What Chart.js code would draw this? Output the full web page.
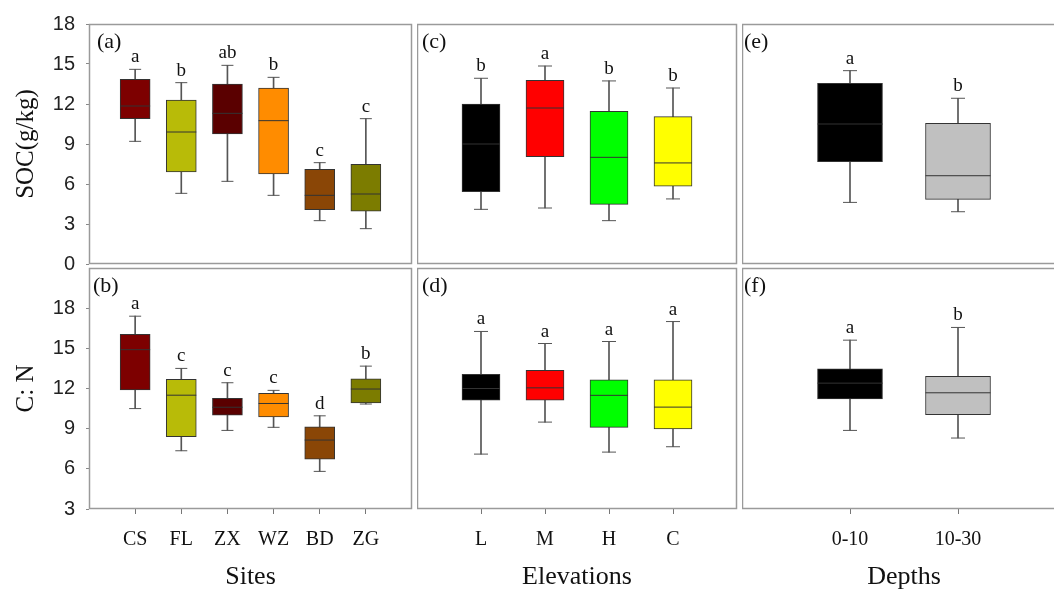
<!DOCTYPE html>
<html>
<head>
<meta charset="utf-8">
<script src="https://cdn.jsdelivr.net/npm/chart.js@4.4.1/dist/chart.umd.min.js"></script>
<style>
  html, body { margin: 0; padding: 0; background: #fff; overflow: hidden; width: 1054px; height: 590px; }
  canvas { position: absolute; }
</style>
</head>
<body>
<canvas id="pa"></canvas>
<canvas id="pb"></canvas>
<canvas id="pc"></canvas>
<canvas id="pd"></canvas>
<canvas id="pe"></canvas>
<canvas id="pf"></canvas>
<script>
// categories
var sites = ['CS', 'FL', 'ZX', 'WZ', 'BD', 'ZG'];
var elevations = ['L', 'M', 'H', 'C'];
var depths = ['0-10', '10-30'];

// tick labels
var socTicks = [0, 3, 6, 9, 12, 15, 18];
var cnTicks = [3, 6, 9, 12, 15, 18];

// box rows: [min, q1, median, q3, max]
var socBySite = [
  [9.2, 10.9, 11.85, 13.85, 14.6],
  [5.3, 6.9, 9.9, 12.3, 13.6],
  [6.2, 9.75, 11.3, 13.5, 14.9],
  [5.15, 6.75, 10.75, 13.2, 14.0],
  [3.25, 4.07, 5.15, 7.1, 7.6],
  [2.65, 3.97, 5.25, 7.47, 10.9]
];
var socSiteLetters = ['a', 'b', 'ab', 'b', 'c', 'c'];

var cnBySite = [
  [10.5, 11.9, 14.9, 16.05, 17.4],
  [7.35, 8.4, 11.5, 12.68, 13.5],
  [8.87, 10.0, 10.6, 11.26, 12.43],
  [9.1, 9.87, 10.88, 11.63, 11.86],
  [5.81, 6.73, 8.15, 9.14, 9.96],
  [10.84, 10.93, 11.96, 12.72, 13.67]
];
var cnSiteLetters = ['a', 'c', 'c', 'c', 'd', 'b'];

var socByElev = [
  [4.1, 5.43, 9.0, 12.0, 13.93],
  [4.2, 8.05, 11.7, 13.78, 14.85],
  [3.25, 4.47, 8.0, 11.45, 13.73],
  [4.88, 5.83, 7.58, 11.05, 13.2]
];
var socElevLetters = ['b', 'a', 'b', 'b'];

var cnByElev = [
  [7.1, 11.13, 12.0, 13.05, 16.26],
  [9.49, 11.13, 12.05, 13.35, 15.36],
  [7.25, 9.1, 11.49, 12.65, 15.51],
  [7.65, 8.99, 10.61, 12.65, 17.0]
];
var cnElevLetters = ['a', 'a', 'a', 'a'];

var socByDepth = [
  [4.62, 7.67, 10.5, 13.55, 14.5],
  [3.92, 4.85, 6.62, 10.55, 12.43]
];
var socDepthLetters = ['a', 'b'];

var cnByDepth = [
  [8.87, 11.23, 12.4, 13.47, 15.61],
  [8.3, 10.04, 11.68, 12.9, 16.56]
];
var cnDepthLetters = ['a', 'b'];

var siteColors = ['#7d0000', '#b8bb08', '#5a0000', '#ff8c00', '#8a4606', '#7c7c00'];
var elevColors = ['#000000', '#ff0000', '#00ff00', '#ffff00'];
var depthColors = ['#000000', '#c0c0c0'];

Chart.defaults.font.family = 'Liberation Serif';
Chart.defaults.color = '#000';

var SERIF = 'Liberation Serif';

function pad(arr) { return [null].concat(arr, [null]); }

// scale paddings would shrink the plot area, the canvas margins already leave room
function noPad(s) { s.paddingTop = 0; s.paddingBottom = 0; s.paddingLeft = 0; s.paddingRight = 0; }

function makePanel(id, p) {
  var x0 = p.rect[0], y0 = p.rect[1], x1 = p.rect[2], y1 = p.rect[3];
  var padTop = 14, padRight = 2;
  var padBottom = p.xTitle ? 0 : 14;
  var yw = p.yTitle ? x0 : 0;
  var xh = p.xTitle ? 590 - y1 : 0;
  var left = x0 - yw, top = y0 - padTop;
  var w = x1 - left + padRight;
  var h = y1 - top + xh + padBottom;

  var cv = document.getElementById(id);
  cv.width = w; cv.height = h;
  cv.style.left = left + 'px'; cv.style.top = top + 'px';
  cv.style.width = w + 'px'; cv.style.height = h + 'px';

  var rows = p.rows;
  var labels = [''].concat(p.cats, ['']);

  var decor = {
    id: 'decor',
    afterDatasetsDraw: function (chart) {
      var ctx = chart.ctx, xs = chart.scales.x, ys = chart.scales.y;
      ctx.save();
      ctx.fillStyle = '#111';
      ctx.font = '19px "' + SERIF + '"';
      ctx.textAlign = 'center';
      ctx.textBaseline = 'alphabetic';
      rows.forEach(function (r, i) {
        ctx.fillText(p.letters[i], xs.getPixelForValue(i + 1), ys.getPixelForValue(r[4]) - 7);
      });
      ctx.restore();
    },
    afterDraw: function (chart) {
      var ctx = chart.ctx, a = chart.chartArea;
      ctx.save();
      ctx.strokeStyle = '#9a9a9a';
      ctx.lineWidth = 1.5;
      ctx.strokeRect(a.left + 0.5, a.top + 0.5, a.right - a.left - 1, a.bottom - a.top - 1);
      ctx.fillStyle = '#111';
      ctx.font = '22px "' + SERIF + '"';
      ctx.textAlign = 'left';
      ctx.textBaseline = 'alphabetic';
      ctx.fillText(p.tag, a.left + p.tagDx, a.top + 24);
      ctx.restore();
    }
  };

  new Chart(cv, {
    type: 'bar',
    data: {
      labels: labels,
      datasets: [
        {
          type: 'bar',
          data: pad(rows.map(function (r) { return [r[0], r[4]]; })),
          backgroundColor: '#555',
          barThickness: 1,
          grouped: false,
          order: 3
        },
        {
          type: 'bar',
          data: pad(rows.map(function (r) { return [r[1], r[3]]; })),
          backgroundColor: pad(p.colors),
          borderColor: '#333',
          borderWidth: 1,
          borderSkipped: false,
          barThickness: p.boxW,
          grouped: false,
          order: 2
        },
        {
          type: 'line',
          data: pad(rows.map(function (r) { return r[4]; })),
          showLine: false,
          pointStyle: 'line',
          pointRadius: p.capR,
          borderColor: '#555',
          borderWidth: 1,
          order: 1
        },
        {
          type: 'line',
          data: pad(rows.map(function (r) { return r[0]; })),
          showLine: false,
          pointStyle: 'line',
          pointRadius: p.capR,
          borderColor: '#555',
          borderWidth: 1,
          order: 1
        },
        {
          type: 'line',
          data: pad(rows.map(function (r) { return r[2]; })),
          showLine: false,
          pointStyle: 'line',
          pointRadius: p.boxW / 2,
          borderColor: '#333',
          borderWidth: 1,
          order: 1
        }
      ]
    },
    options: {
      responsive: false,
      animation: false,
      events: [],
      layout: { autoPadding: false, padding: { top: padTop, right: padRight, bottom: padBottom, left: 0 } },
      plugins: { legend: { display: false }, tooltip: { enabled: false } },
      scales: {
        x: {
          display: !!p.xTitle,
          offset: false,
          grid: {
            offset: false,
            drawOnChartArea: false,
            tickLength: 5,
            tickColor: function (c) { return c.tick && c.tick.label === '' ? 'rgba(0,0,0,0)' : '#777'; }
          },
          border: { display: false },
          ticks: { autoSkip: false, maxRotation: 0, padding: 14, color: '#111', font: { family: SERIF, size: 20 } },
          title: {
            display: !!p.xTitle,
            text: p.xTitle || '',
            color: '#111',
            font: { family: SERIF, size: 26, lineHeight: 1 },
            padding: { top: 0, bottom: 0 }
          },
          afterFit: function (s) { s.height = xh; noPad(s); }
        },
        y: {
          display: !!p.yTitle,
          min: p.yMin,
          max: p.yMax,
          grid: { drawOnChartArea: false, tickLength: 3, color: '#888' },
          border: { display: false },
          ticks: { padding: 11, color: '#222', font: { family: 'Liberation Sans', size: 20 } },
          afterBuildTicks: function (s) { s.ticks = p.yTicks.map(function (v) { return { value: v }; }); },
          title: {
            display: !!p.yTitle,
            text: p.yTitle || '',
            color: '#111',
            font: { family: SERIF, size: 25, lineHeight: 1 },
            padding: { top: 14, bottom: 0 }
          },
          afterFit: function (s) { s.width = yw; noPad(s); }
        }
      }
    },
    plugins: [decor]
  });
}

makePanel('pa', { rect: [89, 24, 412, 264], cats: sites, rows: socBySite, letters: socSiteLetters, colors: siteColors,
  tag: '(a)', tagDx: 8, boxW: 30, capR: 6, yMin: 0, yMax: 18, yTicks: socTicks, yTitle: 'SOC(g/kg)' });
makePanel('pb', { rect: [89, 268, 412, 509], cats: sites, rows: cnBySite, letters: cnSiteLetters, colors: siteColors,
  tag: '(b)', tagDx: 4, boxW: 30, capR: 6, yMin: 3, yMax: 21, yTicks: cnTicks, yTitle: 'C: N', xTitle: 'Sites' });
makePanel('pc', { rect: [417, 24, 737, 264], cats: elevations, rows: socByElev, letters: socElevLetters, colors: elevColors,
  tag: '(c)', tagDx: 5, boxW: 38, capR: 7, yMin: 0, yMax: 18, yTicks: socTicks });
makePanel('pd', { rect: [417, 268, 737, 509], cats: elevations, rows: cnByElev, letters: cnElevLetters, colors: elevColors,
  tag: '(d)', tagDx: 5, boxW: 38, capR: 7, yMin: 3, yMax: 21, yTicks: cnTicks, xTitle: 'Elevations' });
makePanel('pe', { rect: [742, 24, 1066, 264], cats: depths, rows: socByDepth, letters: socDepthLetters, colors: depthColors,
  tag: '(e)', tagDx: 2, boxW: 65, capR: 7, yMin: 0, yMax: 18, yTicks: socTicks });
makePanel('pf', { rect: [742, 268, 1066, 509], cats: depths, rows: cnByDepth, letters: cnDepthLetters, colors: depthColors,
  tag: '(f)', tagDx: 2, boxW: 65, capR: 7, yMin: 3, yMax: 21, yTicks: cnTicks, xTitle: 'Depths' });
</script>
</body>
</html>
